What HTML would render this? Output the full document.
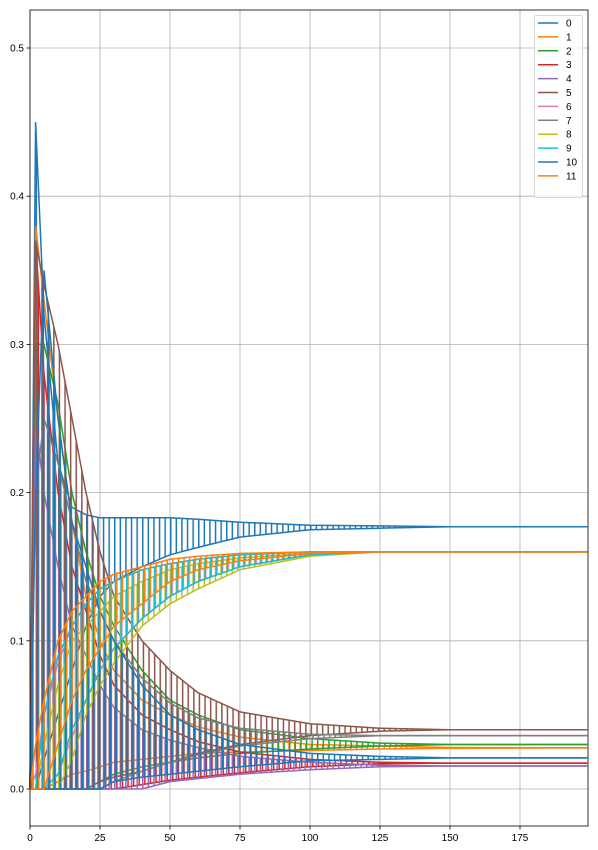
<!DOCTYPE html>
<html><head><meta charset="utf-8"><style>
body{margin:0;background:#fff;}
svg{display:block;font-family:"Liberation Sans",sans-serif;}
</style></head><body>
<svg id="chart" width="598" height="850"></svg>
<script>
const steps=[0,2,5,10,15,20,25,30,40,50,60,75,100,125,150,199];
const seriesNames=["0","1","2","3","4","5","6","7","8","9","10","11"];
const colors=["#1f77b4","#ff7f0e","#2ca02c","#d62728","#9467bd","#8c564b","#e377c2","#7f7f7f","#bcbd22","#17becf","#1f77b4","#ff7f0e"];
const hi0=[0,.45,.32,.22,.19,.185,.183,.183,.183,.183,.182,.18,.178,.1775,.177,.177];
const lo0=[0,0,.02,.05,.08,.11,.13,.14,.15,.158,.163,.17,.175,.176,.177,.177];
const hi1=[0,.38,.33,.25,.18,.13,.1,.08,.06,.05,.042,.035,.03,.029,.028,.0277];
const lo1=[0,0,0,.005,.01,.012,.015,.018,.02,.022,.024,.025,.026,.027,.0275,.0277];
const hi2=[0,.3,.3,.26,.2,.16,.13,.11,.08,.06,.05,.04,.034,.031,.03,.03];
const lo2=[0,0,0,0,0,0,.005,.01,.015,.018,.021,.024,.027,.029,.03,.03];
const hi3=[0,.37,.28,.2,.15,.12,.09,.07,.05,.04,.032,.025,.02,.018,.0175,.0175];
const lo3=[0,0,0,0,0,0,0,0,.003,.006,.008,.011,.015,.017,.0175,.0175];
const hi4=[0,.25,.2,.15,.11,.09,.07,.055,.04,.033,.028,.022,.018,.016,.0155,.0155];
const lo4=[0,0,0,0,0,0,0,0,0,.005,.007,.01,.013,.015,.0155,.0155];
const hi5=[0,.37,.34,.3,.25,.2,.16,.13,.1,.08,.065,.052,.044,.041,.04,.04];
const lo5=[0,0,0,0,0,0,.005,.008,.012,.018,.024,.03,.036,.039,.04,.04];
const hi6=[0,.01,.05,.085,.11,.125,.135,.14,.148,.152,.155,.158,.16,.16,.16,.16];
const lo6=[0,0,0,.01,.035,.06,.08,.095,.115,.13,.14,.15,.158,.16,.16,.16];
const hi7=[0,.2,.25,.22,.18,.14,.12,.1,.075,.058,.048,.041,.037,.036,.036,.036];
const lo7=[0,0,0,0,0,0,0,.005,.012,.018,.023,.029,.034,.036,.036,.036];
const hi8=[0,0,.03,.07,.1,.11,.12,.13,.14,.148,.152,.156,.159,.16,.16,.16];
const lo8=[0,0,0,0,.02,.05,.07,.085,.11,.125,.135,.148,.157,.16,.16,.16];
const hi9=[0,0,.05,.09,.11,.125,.135,.14,.148,.152,.155,.158,.16,.16,.16,.16];
const lo9=[0,0,0,.01,.04,.06,.08,.095,.115,.13,.14,.15,.158,.16,.16,.16];
const hi10=[0,.2,.35,.25,.18,.15,.12,.1,.07,.05,.04,.03,.024,.022,.021,.021];
const lo10=[0,0,0,0,0,0,0,.005,.008,.01,.012,.015,.019,.02,.021,.021];
const hi11=[0,.03,.06,.1,.12,.13,.14,.145,.15,.155,.157,.159,.16,.16,.16,.16];
const lo11=[0,0,0,.03,.06,.08,.095,.11,.125,.14,.148,.154,.159,.16,.16,.16];
const xTicks=[0,25,50,75,100,125,150,175];
const yTicks=[0,0.1,0.2,0.3,0.4,0.5];
const yTickLabels=["0.0","0.1","0.2","0.3","0.4","0.5"];
const HI=[hi0,hi1,hi2,hi3,hi4,hi5,hi6,hi7,hi8,hi9,hi10,hi11];
const LO=[lo0,lo1,lo2,lo3,lo4,lo5,lo6,lo7,lo8,lo9,lo10,lo11];

const NS="http://www.w3.org/2000/svg";
const svg=document.getElementById("chart");
const L=30,R=588,T=10,B=826;
function xs(t){return L+t*2.8;}
function ys(v){return 789-v*1482;}
function mk(tag,attrs,parent){const e=document.createElementNS(NS,tag);for(const k in attrs)e.setAttribute(k,attrs[k]);(parent||svg).appendChild(e);return e;}

const defs=mk("defs",{});
colors.forEach((c,s)=>{
  const p=mk("pattern",{id:"hatch"+s,patternUnits:"userSpaceOnUse",width:5.6,height:10,x:L+(s%4)*0.7},defs);
  mk("rect",{x:0,y:0,width:1.5,height:10,fill:c},p);
});

const grid=mk("g",{});


xTicks.forEach(t=>{
  mk("line",{x1:xs(t),x2:xs(t),y1:T,y2:B,stroke:"#b0b0b0","stroke-width":0.8},grid);
  mk("line",{x1:xs(t),x2:xs(t),y1:B,y2:B+3.5,stroke:"#000","stroke-width":0.8});
  const tx=mk("text",{x:xs(t),y:B+15,"text-anchor":"middle","font-size":10,fill:"#000"});
  tx.textContent=t;
  
  
});
yTicks.forEach((v,i)=>{
  mk("line",{x1:L,x2:R,y1:ys(v),y2:ys(v),stroke:"#b0b0b0","stroke-width":0.8},grid);
  mk("line",{x1:L-3.5,x2:L,y1:ys(v),y2:ys(v),stroke:"#000","stroke-width":0.8});
  const tx=mk("text",{x:L-6,y:ys(v)+3.5,"text-anchor":"end","font-size":10,fill:"#000"});
  tx.textContent=yTickLabels[i];
  
  
});

const plot=mk("g",{});


for(let s=0;s<12;s++){
  const hi=HI[s],lo=LO[s];
  let d="";
  steps.forEach((t,i)=>{d+=(i?"L":"M")+xs(t).toFixed(1)+","+ys(hi[i]).toFixed(1);});
  for(let i=steps.length-1;i>=0;i--){d+="L"+xs(steps[i]).toFixed(1)+","+ys(lo[i]).toFixed(1);}
  d+="Z";
  const band=mk("path",{d:d,fill:"url(#hatch"+s+")",stroke:"none"},plot);
  
  
  let dh="",dl="";
  steps.forEach((t,i)=>{dh+=(i?"L":"M")+xs(t).toFixed(1)+","+ys(hi[i]).toFixed(1);dl+=(i?"L":"M")+xs(t).toFixed(1)+","+ys(lo[i]).toFixed(1);});
  const lh=mk("path",{d:dh,fill:"none",stroke:colors[s],"stroke-width":1.5},plot);
  
  
  const ll=mk("path",{d:dl,fill:"none",stroke:colors[s],"stroke-width":1.5},plot);
  
  
}
const frame=mk("rect",{x:L,y:T,width:R-L,height:B-T,fill:"none",stroke:"#000","stroke-width":0.8});



const leg=mk("g",{});


mk("rect",{x:534.5,y:15.5,width:48,height:182,rx:2,fill:"#fff","fill-opacity":0.8,stroke:"#ccc","stroke-width":0.8},leg);
seriesNames.forEach((n,i)=>{
  const y=23+i*13.9;
  const g=mk("g",{},leg);
  
  
  mk("line",{x1:538,x2:558,y1:y,y2:y,stroke:colors[i],"stroke-width":1.5},g);
  const tx=mk("text",{x:566,y:y+3.5,"font-size":10,fill:"#000"},g);
  tx.textContent=n;
});
</script>
</body></html>
